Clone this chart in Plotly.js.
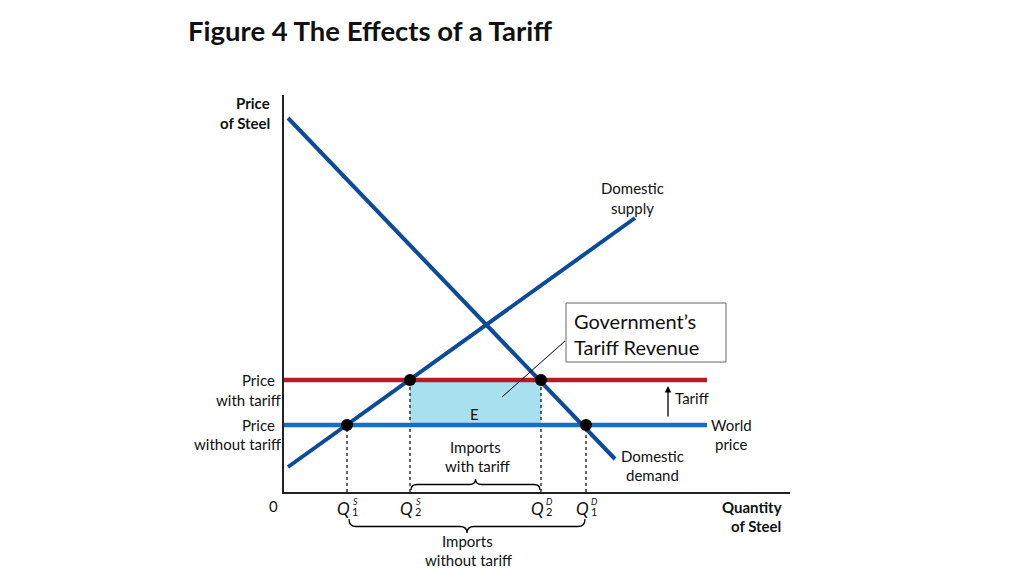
<!DOCTYPE html>
<html>
<head>
<meta charset="utf-8">
<script src="https://cdn.plot.ly/plotly-3.0.1.min.js"></script>
<style>html,body{margin:0;padding:0;background:#fff;}#chart{width:1024px;height:576px;}</style>
</head>
<body>
<div id="chart"></div>
<script>
// ---- data (quantity units, price units) ----
const supplyQ = [0.4, 35.1];
const supplyP = [2.5, 27.4];
const demandQ = [0.4, 33.1];
const demandP = [37.4, 3.3];
const worldPrice = 6.7;
const tariffPrice = 11.2;
const priceLineQ = [0, 42.3];
const pointQ = [6.3, 12.6, 25.7, 30.2];
const pointP = [6.7, 11.2, 11.2, 6.7];
const qSub = ['1', '2', '2', '1'];
const qSup = ['S', 'S', 'D', 'D'];

// ---- helpers (pixel -> paper for label placement) ----
const L = 284, B = 492, W = 506, H = 397, PX = 10;
const XP = p => (p - L) / W;
const YP = p => (B - p) / H;
const X = p => (p - L) / PX;
const Y = p => (B - p) / PX;
const FONT = 'Lato, "Open Sans", sans-serif';
const DARK = '#0c4a9c', WORLD = '#1a6ec2', RED = '#b51a28';

const traces = [];
traces.push({x:[pointQ[1], pointQ[2], pointQ[2], pointQ[1], pointQ[1]],
  y:[tariffPrice, tariffPrice, worldPrice, worldPrice, tariffPrice],
  mode:'lines', fill:'toself', fillcolor:'#a9e0f0', line:{width:0}, hoverinfo:'skip'});
pointQ.forEach((q, i) => traces.push({x:[q, q], y:[0, pointP[i]], mode:'lines',
  line:{color:'#000', width:1.2, dash:'dot'}, hoverinfo:'skip'}));
traces.push({x:priceLineQ, y:[tariffPrice, tariffPrice], mode:'lines', line:{color:RED, width:4.5}});
traces.push({x:priceLineQ, y:[worldPrice, worldPrice], mode:'lines', line:{color:WORLD, width:4.5}});
traces.push({x:demandQ, y:demandP, mode:'lines', line:{color:DARK, width:4}});
traces.push({x:supplyQ, y:supplyP, mode:'lines', line:{color:DARK, width:4}});
traces.push({x:pointQ, y:pointP, mode:'markers', marker:{color:'#000', size:12}});

const ann = [];
function A(text, px, py, o) {
  o = o || {};
  ann.push(Object.assign({text:text, x:XP(px), y:YP(py), xref:'paper', yref:'paper', showarrow:false,
    xanchor:'center', yanchor:'middle', font:{family:FONT, size:15, color:'#111'}}, o));
}
A('<b>Price</b>', 272, 103, {xanchor:'right'});
A('<b>of Steel</b>', 272, 123, {xanchor:'right'});
A('0', 273, 506);
A('Price', 258, 380);
A('with tariff', 248, 400);
A('Price', 258, 425);
A('without tariff', 237, 444);
A('Domestic', 632, 188);
A('supply', 632, 208);
A('Domestic', 652, 456);
A('demand', 652, 475);
A('World', 731, 425);
A('price', 731, 444);
A('Tariff', 692, 398);
A('E', 474, 414);
A('Imports', 475, 447);
A('with tariff', 477, 466);
A('Imports', 467, 541);
A('without tariff', 468, 560);
A('<b>Quantity</b>', 784, 507, {xanchor:'right'});
A('<b>of Steel</b>', 783, 526, {xanchor:'right'});
A('Government\u2019s', 572, 321, {xanchor:'left', font:{family:FONT, size:20, color:'#111'}});
A('Tariff Revenue', 572, 347, {xanchor:'left', font:{family:FONT, size:20, color:'#111'}});
pointQ.forEach((q, i) => {
  const px = q * PX + L;
  A('<i>Q</i>', px - 4, 508, {font:{family:FONT, size:17, color:'#111'}});
  A('<i>' + qSup[i] + '</i>', px + 8, 502, {font:{family:FONT, size:9, color:'#111'}});
  A(qSub[i], px + 8, 511, {font:{family:FONT, size:11, color:'#111'}});
});
ann.push({x:X(668), y:Y(386), ax:X(668), ay:Y(418), xref:'x', yref:'y', axref:'x', ayref:'y',
  showarrow:true, arrowhead:2, arrowsize:1, arrowwidth:1.3, arrowcolor:'#000', text:''});

function brace(x1, x2, yEnd, yMid, yTip, r) {
  const c = (x1 + x2) / 2;
  return `M${x1},${yEnd} Q${x1},${yMid} ${x1 + r},${yMid} L${c - r},${yMid} Q${c},${yMid} ${c},${yTip} ` +
         `Q${c},${yMid} ${c + r},${yMid} L${x2 - r},${yMid} Q${x2},${yMid} ${x2},${yEnd}`;
}
const shapes = [];
shapes.push({type:'path', xref:'paper', yref:'paper',
  path: brace(XP(411), XP(540), YP(490), YP(484.5), YP(479), 6/W),
  line:{color:'#000', width:1.3}});
shapes.push({type:'path', xref:'paper', yref:'paper',
  path: brace(XP(349), XP(585), YP(519), YP(526.5), YP(533), 7/W),
  line:{color:'#000', width:1.3}});
shapes.push({type:'rect', xref:'x', yref:'y', x0:X(566), x1:X(726), y0:Y(303), y1:Y(362),
  line:{color:'#666', width:1}, fillcolor:'rgba(255,255,255,0)'});
shapes.push({type:'line', xref:'x', yref:'y', x0:X(565), y0:Y(341), x1:X(502), y1:Y(397),
  line:{color:'#000', width:1}});

const layout = {
  width:1024, height:576,
  margin:{l:284, r:234, t:95, b:84},
  paper_bgcolor:'#fff', plot_bgcolor:'#fff',
  showlegend:false,
  title:{text:'<b>Figure 4 The Effects of a Tariff</b>', xref:'container', yref:'container',
    x:188/1024, xanchor:'left', y:1 - 31/576, yanchor:'middle',
    font:{family:FONT, size:27.5, color:'#111'}},
  xaxis:{range:[0, 50.6], showgrid:false, zeroline:false, showticklabels:false, ticks:'',
    showline:true, linecolor:'#222', linewidth:2, fixedrange:true},
  yaxis:{range:[0, 39.7], showgrid:false, zeroline:false, showticklabels:false, ticks:'',
    showline:true, linecolor:'#222', linewidth:2, fixedrange:true},
  annotations:ann, shapes:shapes
};
Plotly.newPlot('chart', traces, layout, {displayModeBar:false, staticPlot:true});
</script>
</body>
</html>
